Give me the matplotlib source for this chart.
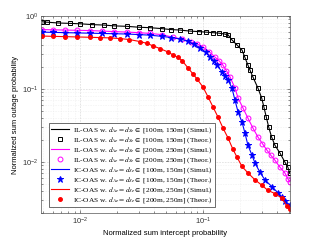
import numpy as np
import matplotlib
matplotlib.use("Agg")
import matplotlib.pyplot as plt

plt.rcParams['font.family'] = 'Liberation Sans'
plt.rcParams['mathtext.fontset'] = 'stix'

# IL-OAS, d in [100m,150m]
x_il1 = [0.0049, 0.0054, 0.0066, 0.0082, 0.0100, 0.0125, 0.0155, 0.019, 0.024, 0.030,
         0.037, 0.046, 0.055, 0.065, 0.078, 0.092, 0.105, 0.120, 0.135, 0.150,
         0.160, 0.172, 0.189, 0.208, 0.2195, 0.232, 0.241, 0.255, 0.280, 0.300,
         0.313, 0.328, 0.343, 0.362, 0.385, 0.423, 0.464, 0.491, 0.509]
y_il1 = [0.83, 0.82, 0.80, 0.79, 0.78, 0.76, 0.75, 0.73, 0.72, 0.70,
         0.69, 0.67, 0.65, 0.64, 0.62, 0.61, 0.60, 0.59, 0.58, 0.565,
         0.55, 0.47, 0.40, 0.34, 0.27, 0.213, 0.182, 0.146, 0.103, 0.076,
         0.057, 0.041, 0.030, 0.022, 0.017, 0.0133, 0.0100, 0.0085, 0.0070]

# IL-OAS, d in [200m,250m]
x_il2 = [0.0049, 0.0060, 0.0075, 0.0095, 0.012, 0.015, 0.019, 0.024, 0.030, 0.037,
         0.046, 0.057, 0.068, 0.080, 0.090, 0.100, 0.112, 0.125, 0.136, 0.145,
         0.155, 0.166, 0.182, 0.193, 0.2115, 0.232, 0.255, 0.280, 0.305, 0.331,
         0.355, 0.385, 0.423, 0.464, 0.491, 0.509]
y_il2 = [0.65, 0.645, 0.64, 0.635, 0.63, 0.62, 0.61, 0.60, 0.59, 0.575,
         0.555, 0.51, 0.48, 0.44, 0.41, 0.376, 0.325, 0.274, 0.24, 0.213,
         0.178, 0.146, 0.103, 0.0753, 0.055, 0.040, 0.0292, 0.022, 0.0178, 0.0146,
         0.0125, 0.0106, 0.0085, 0.0071, 0.0059, 0.0054]

# IC-OAS, d in [100m,150m]
x_ic1 = [0.0049, 0.0060, 0.0075, 0.0095, 0.012, 0.015, 0.019, 0.024, 0.030, 0.037,
         0.046, 0.055, 0.065, 0.075, 0.085, 0.0946, 0.105, 0.114, 0.122, 0.130,
         0.1427, 0.152, 0.160, 0.172, 0.182, 0.193, 0.2077, 0.2195, 0.232, 0.250,
         0.265, 0.290, 0.319, 0.364, 0.407, 0.440, 0.464, 0.509]
y_ic1 = [0.60, 0.595, 0.59, 0.585, 0.58, 0.575, 0.57, 0.565, 0.555, 0.545,
         0.525, 0.505, 0.484, 0.45, 0.41, 0.365, 0.32, 0.274, 0.24, 0.213,
         0.171, 0.150, 0.133, 0.103, 0.0707, 0.0484, 0.0353, 0.025, 0.0171, 0.0125,
         0.0097, 0.0073, 0.0057, 0.0046, 0.0038, 0.0033, 0.0029, 0.0026]

# IC-OAS, d in [200m,250m]
x_ic2 = [0.0049, 0.0060, 0.0075, 0.0095, 0.012, 0.0145, 0.0175, 0.021, 0.025, 0.0308,
         0.035, 0.039, 0.045, 0.052, 0.057, 0.0625, 0.0675, 0.0755, 0.083, 0.090,
         0.100, 0.110, 0.1206, 0.1324, 0.1454, 0.160, 0.175, 0.189, 0.2077, 0.232,
         0.265, 0.302, 0.337, 0.385, 0.439, 0.482, 0.509]
y_ic2 = [0.53, 0.525, 0.52, 0.515, 0.51, 0.505, 0.50, 0.49, 0.475, 0.445,
         0.42, 0.39, 0.355, 0.32, 0.292, 0.27, 0.245, 0.194, 0.160, 0.135,
         0.106, 0.0777, 0.0567, 0.0413, 0.0292, 0.0213, 0.0150, 0.0117, 0.0087, 0.0071,
         0.0057, 0.0048, 0.0041, 0.0037, 0.0032, 0.0025, 0.0023]

rng_lbl = ['[100m, 150m]', '[200m, 250m]']

def lbl(scheme, r, kind):
    return scheme + r' w. $d_{Ae}=d_{Se}\in$ ' + r + ' (' + kind + ')'

fig = plt.figure(figsize=(3.21, 2.41), dpi=100)
ax = fig.add_axes([0.128, 0.116, 0.775, 0.818])

series = [
    (x_il1, y_il1, 'k', 's', 'none', 3.0, 'IL-OAS', rng_lbl[0]),
    (x_il2, y_il2, '#ff00ff', 'o', 'none', 3.5, 'IL-OAS', rng_lbl[1]),
    (x_ic1, y_ic1, '#0000ff', '*', '#0000ff', 4.5, 'IC-OAS', rng_lbl[0]),
    (x_ic2, y_ic2, '#ff0000', 'o', '#ff0000', 2.8, 'IC-OAS', rng_lbl[1]),
]
for x, y, c, m, mfc, ms, name, r in series:
    ax.plot(x, y, '-', color=c, lw=0.8, label=lbl(name, r, 'Simul.'))
    ax.plot(x, y, ls='none', marker=m, mfc=mfc, mec=c, ms=ms, mew=0.7,
            label=lbl(name, r, 'Theor.'))

ax.set_xscale('log')
ax.set_yscale('log')
ax.set_xlim(0.0048, 0.51)
ax.set_ylim(0.002, 1)
ax.grid(True, which='major', color='#d0d0d0', lw=0.4, ls=(0, (3, 2)))
ax.grid(True, which='minor', color='#e2e2e2', lw=0.4, ls=(0, (1, 2)))
ax.tick_params(which='both', direction='in', labelsize=5.5, length=2, width=0.4,
               colors='#333333', top=True, right=True, pad=2)
ax.tick_params(which='minor', length=1.2)
for s in ax.spines.values():
    s.set_color('#555555')
    s.set_linewidth(0.5)
ax.set_xlabel('Normalized sum intercept probability', fontsize=5.5, labelpad=2)
ax.set_ylabel('Normalized sum outage probability', fontsize=5.5, labelpad=2)

leg = ax.legend(loc='lower left', bbox_to_anchor=(0.03, 0.03), borderaxespad=0,
                prop={'family': 'Liberation Serif', 'size': 5.3},
                handlelength=2.5, handletextpad=0.5, labelspacing=0.0,
                borderpad=0.3, fancybox=False, framealpha=1, edgecolor='#333333')
leg.get_frame().set_linewidth(0.5)

fig.savefig('out.png', dpi=100)
